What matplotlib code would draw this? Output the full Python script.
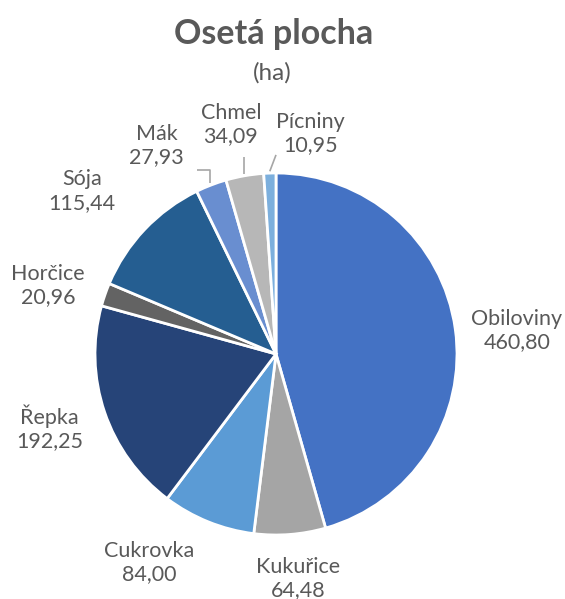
import numpy as np
import matplotlib
matplotlib.use('Agg')
import matplotlib.pyplot as plt

# data
crops = ['Obiloviny', 'Kukuřice', 'Cukrovka', 'Řepka', 'Horčice', 'Sója', 'Mák', 'Chmel', 'Pícniny']
area_ha = [460.80, 64.48, 84.00, 192.25, 20.96, 115.44, 27.93, 34.09, 10.95]
colors = ['#4472C4', '#A5A5A5', '#5B9BD5', '#264478', '#636363', '#255E91', '#698ED0', '#B7B7B7', '#7CAFDD']

# label layout (pie radius units) - mimics Excel's placement
label_pos = [(1.33, 0.13), (0.12, -1.24), (-0.70, -1.15), (-1.25, -0.41), (-1.26, 0.38),
             (-1.07, 0.90), (-0.66, 1.15), (-0.25, 1.27), (0.19, 1.22)]
# leader lines for the small slices: index -> end points after the slice edge
leaders = {6: [(None, 1.017), (-0.436, 1.017)],
           7: [(None, 1.088)],
           8: [(0.0, 1.10)]}

text_color = '#595959'
plt.rcParams['font.family'] = ['Lato', 'DejaVu Sans']

W, H = 565, 599
cx, cy, R = 276, 354, 181
fig = plt.figure(figsize=(W / 100, H / 100), dpi=100)
ax = fig.add_axes([0, 0, 1, 1])

wedges, _ = ax.pie(area_ha, colors=colors, startangle=90, counterclock=False,
                   radius=1.0, wedgeprops=dict(edgecolor='white', linewidth=2))

ax.set_xlim(-cx / R, (W - cx) / R)
ax.set_ylim(-(H - cy) / R, cy / R)
ax.set_aspect('equal')
ax.axis('off')

for i, (name, val) in enumerate(zip(crops, area_ha)):
    x, y = label_pos[i]
    txt = name + '\n' + f'{val:.2f}'.replace('.', ',')
    ax.text(x, y, txt, ha='center', va='center', fontsize=15.5, color=text_color,
            linespacing=1.2)

# leader lines
for i, pts in leaders.items():
    w = wedges[i]
    mid = np.deg2rad((w.theta1 + w.theta2) / 2)
    sx, sy = 1.01 * np.cos(mid), 1.01 * np.sin(mid)
    xs, ys = [sx], [sy]
    for px, py in pts:
        xs.append(sx if px is None else px)
        ys.append(py)
    ax.plot(xs, ys, color='#A6A6A6', lw=1.2, solid_capstyle='butt')

fig.text(cx / W - 0.004, 1 - 34 / H, 'Osetá plocha', ha='center', va='center',
         fontsize=24.5, fontweight='bold', color=text_color)
fig.text(cx / W - 0.006, 1 - 73 / H, '(ha)', ha='center', va='center',
         fontsize=17.5, color=text_color)

fig.savefig('out.png', dpi=100)
